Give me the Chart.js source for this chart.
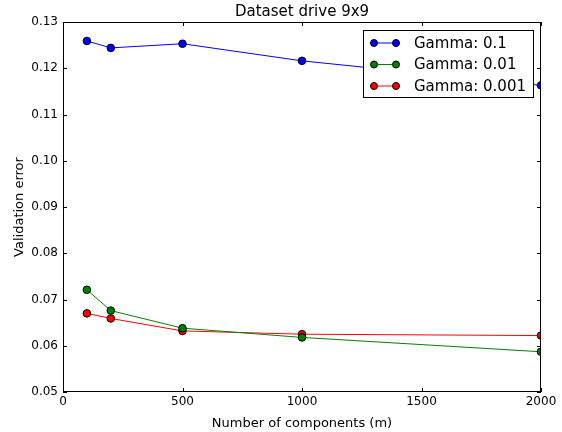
<!DOCTYPE html>
<html>
<head>
<meta charset="utf-8">
<script src="https://cdn.jsdelivr.net/npm/chart.js@4"></script>
<style>
    html, body { margin: 0; padding: 0; background: #fff; }
    #wrap { width: 562px; height: 432px; }
</style>
</head>
<body>
<div id="wrap"><canvas id="chart"></canvas></div>
<script>
const components = [100, 200, 500, 1000, 2000];
const gamma01 = [0.1259, 0.1244, 0.1253, 0.1216, 0.1163];
const gamma001 = [0.0721, 0.0676, 0.0638, 0.0618, 0.0587];
const gamma0001 = [0.0670, 0.0659, 0.0632, 0.0625, 0.0622];
const seriesLabels = ["Gamma: 0.1", "Gamma: 0.01", "Gamma: 0.001"];
const seriesColors = ["#0000ff", "#008000", "#ff0000"];
const xTicks = [0, 500, 1000, 1500, 2000];
const yTicks = [0.05, 0.06, 0.07, 0.08, 0.09, 0.10, 0.11, 0.12, 0.13];

const FONT = "'DejaVu Sans', sans-serif";

function makeSeries(values) {
    return components.map((c, i) => ({ x: c, y: values[i] }));
}

// frame, inward ticks, title and legend drawn on top
const decorPlugin = {
    id: "decor",
    afterDraw(chart) {
        const ctx = chart.ctx;
        const a = chart.chartArea;
        const xs = chart.scales.x;
        const ys = chart.scales.y;

        ctx.save();
        ctx.strokeStyle = "#000";
        ctx.lineWidth = 1;

        // ticks
        ctx.beginPath();
        xTicks.forEach(v => {
            const px = Math.round(xs.getPixelForValue(v)) + 0.5;
            ctx.moveTo(px, a.bottom); ctx.lineTo(px, a.bottom - 4);
            ctx.moveTo(px, a.top); ctx.lineTo(px, a.top + 4);
        });
        yTicks.forEach(v => {
            const py = Math.round(ys.getPixelForValue(v)) + 0.5;
            ctx.moveTo(a.left, py); ctx.lineTo(a.left + 4, py);
            ctx.moveTo(a.right, py); ctx.lineTo(a.right - 4, py);
        });
        ctx.stroke();

        // frame
        ctx.strokeRect(a.left + 0.5, a.top + 0.5, a.right - a.left - 1, a.bottom - a.top - 1);

        // title
        ctx.fillStyle = "#000";
        ctx.font = "15px " + FONT;
        ctx.textAlign = "center";
        ctx.textBaseline = "middle";
        ctx.fillText("Dataset drive 9x9", (a.left + a.right) / 2, 12.5);

        // legend
        const lx = 363, ly = 30, lw = 170, lh = 67;
        ctx.fillStyle = "#fff";
        ctx.fillRect(lx, ly, lw, lh);
        ctx.strokeRect(lx + 0.5, ly + 0.5, lw, lh);
        ctx.textAlign = "left";
        seriesLabels.forEach((label, i) => {
            const y = 43 + i * 21.5;
            ctx.strokeStyle = seriesColors[i];
            ctx.beginPath();
            ctx.moveTo(374, y); ctx.lineTo(396, y);
            ctx.stroke();
            [374, 396].forEach(cx => {
                ctx.beginPath();
                ctx.arc(cx, y, 3.5, 0, Math.PI * 2);
                ctx.fillStyle = seriesColors[i];
                ctx.fill();
                ctx.strokeStyle = "#000";
                ctx.stroke();
            });
            ctx.fillStyle = "#000";
            ctx.fillText(label, 414, y + 1);
        });
        ctx.restore();
    }
};

const datasets = [gamma01, gamma001, gamma0001].map((vals, i) => ({
    label: seriesLabels[i],
    data: makeSeries(vals),
    borderColor: seriesColors[i],
    backgroundColor: seriesColors[i],
    pointBackgroundColor: seriesColors[i],
    pointBorderColor: "#000",
    pointBorderWidth: 1,
    pointRadius: 3.8,
    borderWidth: 1,
    tension: 0,
    clip: 0
}));

new Chart(document.getElementById("chart"), {
    type: "line",
    data: { datasets },
    options: {
        responsive: true,
        maintainAspectRatio: false,
        animation: false,
        layout: { padding: { left: 0, right: 21, top: 22, bottom: 0 } },
        plugins: {
            legend: { display: false },
            title: { display: false },
            tooltip: { enabled: false }
        },
        scales: {
            x: {
                type: "linear",
                min: 0,
                max: 2000,
                afterBuildTicks: s => { s.ticks = xTicks.map(v => ({ value: v })); },
                afterFit: s => { s.height = 40; },
                grid: { display: false, drawTicks: false },
                border: { display: false },
                ticks: {
                    padding: 3,
                    color: "#000",
                    font: { family: FONT, size: 12 },
                    maxRotation: 0,
                    callback: v => String(v)
                },
                title: {
                    display: true,
                    text: "Number of components (m)",
                    color: "#000",
                    font: { family: FONT, size: 13 },
                    padding: { top: 0, bottom: 1 }
                }
            },
            y: {
                type: "linear",
                min: 0.05,
                max: 0.13,
                afterBuildTicks: s => { s.ticks = yTicks.map(v => ({ value: v })); },
                afterFit: s => { s.width = 63; },
                grid: { display: false, drawTicks: false },
                border: { display: false },
                ticks: {
                    padding: 5,
                    color: "#000",
                    font: { family: FONT, size: 12 },
                    callback: v => v.toFixed(2)
                },
                title: {
                    display: true,
                    text: "Validation error",
                    color: "#000",
                    font: { family: FONT, size: 13 },
                    padding: { top: 12, bottom: 0 }
                }
            }
        }
    },
    plugins: [decorPlugin]
});
</script>
</body>
</html>
